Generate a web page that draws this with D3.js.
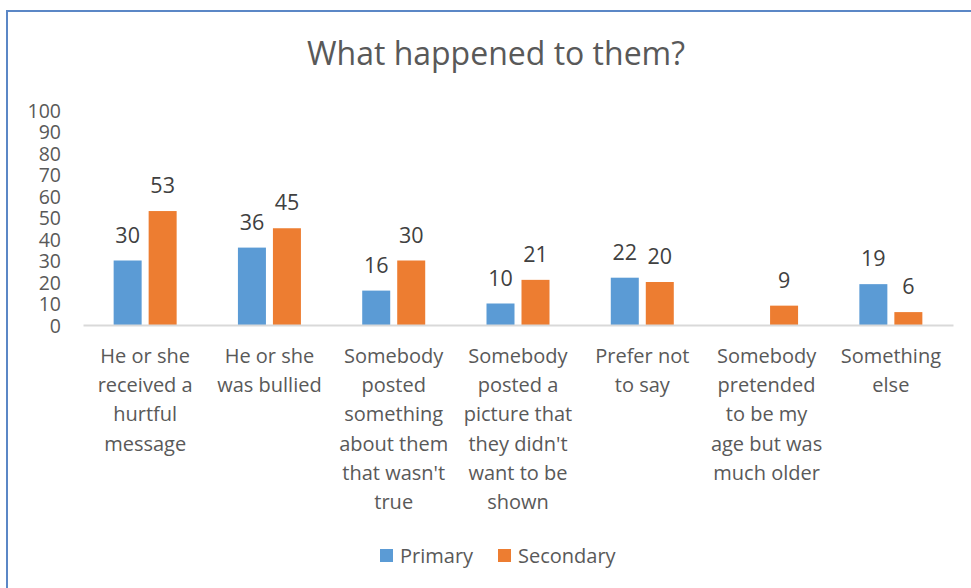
<!DOCTYPE html>
<html>
<head>
<meta charset="utf-8">
<script src="https://cdn.jsdelivr.net/npm/d3@7"></script>
<style>
  html, body { margin: 0; padding: 0; background: #fff; }
  svg { display: block; font-family: "Open Sans", sans-serif; }
</style>
</head>
<body>
<svg id="chart" width="971" height="588"></svg>
<script>
// Categories (line breaks mark how each axis label wraps)
const categories = [
  "He or she\nreceived a\nhurtful\nmessage",
  "He or she\nwas bullied",
  "Somebody\nposted\nsomething\nabout them\nthat wasn't\ntrue",
  "Somebody\nposted a\npicture that\nthey didn't\nwant to be\nshown",
  "Prefer not\nto say",
  "Somebody\npretended\nto be my\nage but was\nmuch older",
  "Something\nelse"
];
const seriesNames = ["Primary", "Secondary"];
const primary   = [30, 36, 16, 10, 22, null, 19];
const secondary = [53, 45, 30, 21, 20, 9, 6];
const colors = ["#5B9BD5", "#ED7D31"];
const yTicks = [0, 10, 20, 30, 40, 50, 60, 70, 80, 90, 100];
const title = "What happened to them?";

const svg = d3.select("#chart");
const W = 971, H = 588;
const plot = { left: 83, right: 953, top: 110, bottom: 325 };

// Chart frame (top and left edges)
svg.append("path")
  .attr("d", `M7,${H} L7,11 L${W},11`)
  .attr("fill", "none")
  .attr("stroke", "#5B87C6")
  .attr("stroke-width", 2);

// Title
svg.append("text")
  .attr("x", 496).attr("y", 65)
  .attr("text-anchor", "middle")
  .attr("font-size", 32)
  .attr("fill", "#595959")
  .text(title);

const x = d3.scaleBand().domain(categories).range([plot.left, plot.right]).paddingInner(0).paddingOuter(0);
const y = d3.scaleLinear().domain([0, 100]).range([plot.bottom, plot.top]);

const groupWidth = 63;
const x1 = d3.scaleBand().domain(seriesNames).range([0, groupWidth]).paddingInner(0.2);

// Y axis labels
const yAxis = svg.append("g")
  .attr("transform", `translate(61,0)`)
  .call(d3.axisLeft(y).tickValues(yTicks).tickSize(0).tickPadding(0));
yAxis.select(".domain").remove();
yAxis.selectAll("text")
  .attr("font-family", "'Open Sans', sans-serif")
  .attr("font-size", 19.5)
  .attr("fill", "#595959")
  .attr("dy", "0.36em");

// Bars with value labels
const series = [primary, secondary];
series.forEach((vals, si) => {
  const data = categories.map((c, i) => ({ c, v: vals[i] })).filter(d => d.v != null);
  const bx = d => x(d.c) + (x.bandwidth() - groupWidth) / 2 + x1(seriesNames[si]);
  const g = svg.append("g");
  g.selectAll("rect").data(data).join("rect")
    .attr("x", bx)
    .attr("y", d => y(d.v))
    .attr("width", x1.bandwidth())
    .attr("height", d => y(0) - y(d.v))
    .attr("fill", colors[si]);
  g.selectAll("text").data(data).join("text")
    .attr("x", d => bx(d) + x1.bandwidth() / 2)
    .attr("y", d => y(d.v) - 18)
    .attr("text-anchor", "middle")
    .attr("font-size", 21.5)
    .attr("fill", "#404040")
    .text(d => d.v);
});

// X axis
const xAxis = svg.append("g")
  .attr("transform", `translate(0,${plot.bottom})`)
  .call(d3.axisBottom(x).tickSize(0).tickFormat(""));
xAxis.select(".domain").attr("stroke", "#D9D9D9").attr("stroke-width", 2);

xAxis.selectAll(".tick").each(function(d) {
  const t = d3.select(this).append("text")
    .attr("text-anchor", "middle")
    .attr("font-family", "'Open Sans', sans-serif")
    .attr("font-size", 20)
    .attr("fill", "#595959");
  d.split("\n").forEach((line, i) => {
    t.append("tspan").attr("x", 0).attr("y", 38 + i * 29.2).text(line);
  });
});

// Legend
const legend = svg.append("g");
const legendPos = [380, 498];
seriesNames.forEach((name, i) => {
  legend.append("rect")
    .attr("x", legendPos[i]).attr("y", 549)
    .attr("width", 13).attr("height", 13)
    .attr("fill", colors[i]);
  legend.append("text")
    .attr("x", legendPos[i] + 20).attr("y", 556)
    .attr("dy", "0.36em")
    .attr("font-size", 20)
    .attr("fill", "#595959")
    .text(name);
});
</script>
</body>
</html>
